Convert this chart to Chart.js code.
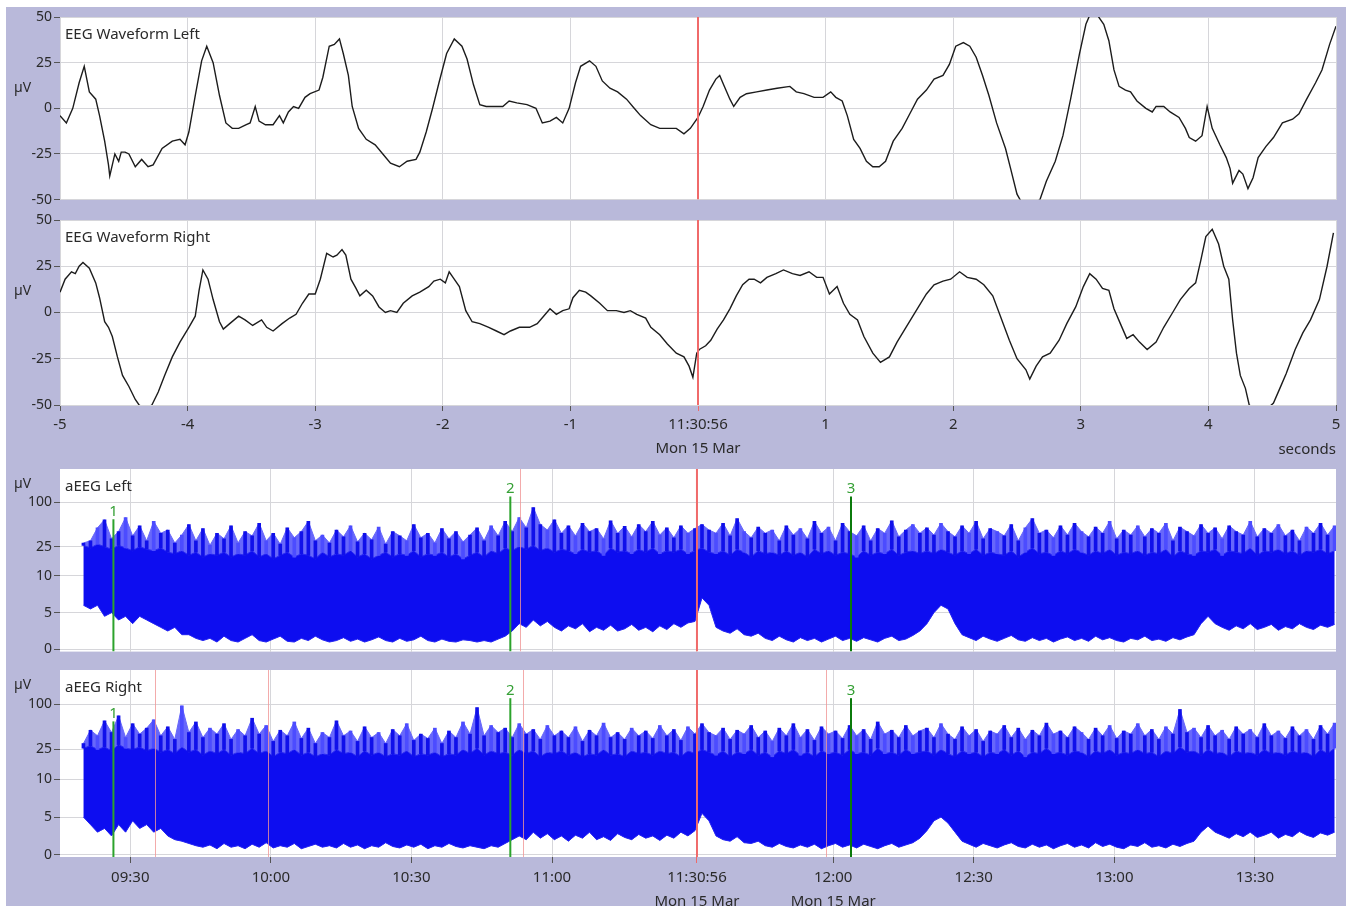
<!DOCTYPE html>
<html>
<head>
<meta charset="utf-8">
<title>EEG / aEEG</title>
<script src="https://cdn.jsdelivr.net/npm/chart.js@4/dist/chart.umd.min.js"></script>
<style>
  html, body { margin: 0; padding: 0; background: #fff; }
  body { width: 1352px; height: 906px; position: relative; overflow: hidden; }
  #frame { position: absolute; left: 6px; top: 7px; width: 1340px; height: 899px; background: #b9b9da; }
  canvas { position: absolute; left: 0; }
</style>
</head>
<body>
<div id="frame"></div>
<canvas id="eegLeft" width="1352" height="205" style="top:5px"></canvas>
<canvas id="eegRight" width="1352" height="262" style="top:208px"></canvas>
<canvas id="aeegLeft" width="1352" height="205" style="top:457px"></canvas>
<canvas id="aeegRight" width="1352" height="248" style="top:658px"></canvas>
<script>
// EEG waveforms: seconds relative to the cursor, µV
const eegLeftT = [
  -5.00,-4.95,-4.90,-4.85,-4.81,-4.77,-4.72,-4.69,-4.65,-4.62,
  -4.61,-4.57,-4.54,-4.52,-4.49,-4.46,-4.41,-4.36,-4.31,-4.27,
  -4.20,-4.12,-4.06,-4.02,-3.99,-3.94,-3.89,-3.85,-3.80,-3.75,
  -3.70,-3.65,-3.60,-3.54,-3.51,-3.47,-3.44,-3.39,-3.33,-3.28,
  -3.25,-3.21,-3.17,-3.13,-3.08,-3.04,-2.97,-2.94,-2.89,-2.85,
  -2.81,-2.78,-2.74,-2.71,-2.66,-2.60,-2.53,-2.47,-2.41,-2.34,
  -2.28,-2.21,-2.18,-2.13,-2.08,-2.03,-1.97,-1.91,-1.85,-1.81,
  -1.76,-1.71,-1.66,-1.60,-1.53,-1.48,-1.42,-1.34,-1.27,-1.22,
  -1.16,-1.11,-1.06,-1.01,-0.96,-0.92,-0.85,-0.80,-0.75,-0.69,
  -0.63,-0.56,-0.50,-0.45,-0.37,-0.30,-0.24,-0.17,-0.11,-0.06,
  0.00,
  0.04,0.09,0.14,0.17,0.20,0.25,0.28,0.33,0.38,0.46,
  0.54,0.62,0.72,0.77,0.83,0.91,0.98,1.04,1.08,1.13,
  1.17,1.22,1.27,1.32,1.37,1.42,1.47,1.53,1.60,1.66,
  1.72,1.79,1.85,1.92,1.97,2.02,2.08,2.13,2.18,2.23,
  2.28,2.34,2.41,2.45,2.50,2.54,2.60,2.68,2.73,2.80,
  2.86,2.92,2.99,3.04,3.07,3.13,3.18,3.22,3.26,3.30,
  3.35,3.39,3.44,3.51,3.56,3.59,3.65,3.70,3.77,3.82,
  3.85,3.90,3.95,3.99,4.03,4.09,4.14,4.17,4.19,4.24,
  4.27,4.31,4.35,4.39,4.45,4.51,4.58,4.66,4.71,4.77,
  4.84,4.89,4.95,5.00
];
const eegLeftV = [
  -4,-8,0,14,23,9,5,-4,-18,-31,
  -37,-25,-29,-24,-24,-25,-32,-28,-32,-31,
  -22,-18,-17,-20,-13,7,26,34,25,7,
  -8,-11,-11,-9,-8,1,-7,-9,-9,-4,
  -8,-2,1,0,6,8,10,17,34,35,
  38,30,18,1,-11,-17,-20,-25,-30,-32,
  -29,-28,-24,-13,0,14,30,38,34,27,
  13,2,1,1,1,4,3,2,0,-8,
  -7,-5,-8,0,14,23,26,23,15,11,
  9,5,0,-4,-9,-11,-11,-11,-14,-11,
  -5,
  1,10,16,18,13,5,1,6,8,9,
  10,11,12,9,8,6,6,9,6,4,
  -4,-17,-22,-29,-32,-32,-29,-18,-11,-3,
  5,10,16,18,24,34,36,34,28,18,
  7,-8,-22,-33,-47,-52,-54,-50,-40,-29,
  -15,5,30,46,51,51,46,37,21,12,
  10,9,4,0,-2,1,1,-2,-5,-11,
  -16,-18,-15,1,-11,-20,-27,-33,-41,-34,
  -36,-44,-38,-27,-21,-16,-8,-6,-3,5,
  14,21,35,45
];
const eegRightT = [
  -5.00,-4.96,-4.91,-4.88,-4.85,-4.82,-4.77,-4.72,-4.69,-4.65,
  -4.62,-4.59,-4.55,-4.51,-4.46,-4.41,-4.38,-4.33,-4.28,-4.23,
  -4.18,-4.12,-4.06,-3.99,-3.94,-3.91,-3.88,-3.84,-3.80,-3.75,
  -3.72,-3.67,-3.60,-3.55,-3.49,-3.42,-3.38,-3.33,-3.26,-3.20,
  -3.15,-3.10,-3.05,-3.00,-2.96,-2.91,-2.86,-2.83,-2.79,-2.76,
  -2.72,-2.68,-2.65,-2.60,-2.55,-2.50,-2.45,-2.41,-2.36,-2.31,
  -2.24,-2.18,-2.11,-2.07,-2.02,-1.98,-1.95,-1.92,-1.87,-1.82,
  -1.77,-1.71,-1.64,-1.58,-1.52,-1.47,-1.40,-1.32,-1.26,-1.21,
  -1.16,-1.11,-1.06,-1.01,-0.98,-0.93,-0.88,-0.84,-0.77,-0.71,
  -0.64,-0.58,-0.53,-0.48,-0.41,-0.37,-0.30,-0.24,-0.17,-0.11,
  -0.07,-0.04,-0.01,
  0.01,0.06,0.10,0.15,0.20,0.25,0.30,0.35,0.40,0.44,
  0.49,0.54,0.61,0.67,0.74,0.80,0.87,0.93,0.98,1.03,
  1.09,1.14,1.19,1.25,1.30,1.37,1.43,1.50,1.56,1.63,
  1.71,1.79,1.85,1.92,1.98,2.05,2.11,2.18,2.24,2.31,
  2.37,2.44,2.50,2.57,2.60,2.65,2.70,2.76,2.83,2.89,
  2.96,3.02,3.07,3.12,3.17,3.22,3.26,3.31,3.36,3.41,
  3.46,3.52,3.59,3.65,3.72,3.78,3.85,3.90,3.94,3.98,
  4.03,4.08,4.12,4.16,4.19,4.22,4.25,4.29,4.32,4.37,
  4.46,4.51,4.56,4.61,4.68,4.74,4.80,4.87,4.93,4.98
];
const eegRightV = [
  11,18,22,21,25,27,24,16,8,-5,
  -8,-13,-24,-34,-40,-47,-50,-52,-50,-43,
  -34,-24,-16,-8,-2,12,23,18,7,-5,
  -9,-6,-2,-4,-7,-4,-8,-10,-6,-3,
  -1,5,10,10,18,32,30,31,34,31,
  18,13,9,12,9,3,0,1,0,5,
  9,11,14,17,18,16,22,19,14,1,
  -5,-6,-8,-10,-12,-10,-8,-8,-6,-2,
  2,-1,1,2,8,12,11,9,5,1,
  1,0,1,-1,-3,-8,-12,-17,-22,-24,
  -29,-35,-22,
  -20,-18,-15,-9,-4,2,9,15,18,18,
  16,19,21,23,21,20,22,19,19,10,
  14,5,-1,-4,-13,-22,-27,-24,-16,-8,
  1,10,15,17,18,22,19,18,15,9,
  -2,-15,-25,-31,-36,-29,-24,-22,-15,-6,
  3,14,21,18,13,12,2,-6,-14,-12,
  -16,-20,-16,-8,0,7,13,16,28,41,
  45,37,25,18,-4,-22,-34,-41,-50,-52,
  -52,-49,-41,-33,-20,-11,-4,7,25,43
];
const eegTicks = [-5, -4, -3, -2, -1, 0, 1, 2, 3, 4, 5];
const eegTickLabels = ['-5', '-4', '-3', '-2', '-1', ['11:30:56', 'Mon 15 Mar'], '1', '2', '3', '4', '5'];
const eegYTicks = [-50, -25, 0, 25, 50];

// aEEG: lower margin, top of the dense band and spike maximum every 1.5 minutes
// (time in minutes since midnight)
const AEEG_START = 560, AEEG_STEP = 1.5;
const aeegLeftLo = [
  6,5.5,6,4.5,5,4,4.5,3.5,4.5,4,
  3.5,3,2.5,3,2,2,1.5,1.2,1.5,1,
  1.8,1.2,1,1.5,2,1.2,1,1.4,1.8,1.1,
  1,1.5,1.2,1.8,1.3,1,1.2,1.6,1.1,1.4,
  1,1.3,1.7,1.2,1,1.5,1.1,1.3,1.8,1.2,
  1,1.4,1.1,1,1.3,1.2,1,1.2,1,1.4,
  1.8,2.5,3.5,3,4,3.2,3.8,3,2.5,3.2,
  2.8,3.5,2.4,3,2.6,3.3,2.5,2.8,3.4,2.6,
  3,2.4,3.2,2.7,3.5,3,3.6,3.8,7,6,
  3,2.5,2.2,2.8,2,1.8,2.2,1.5,1.2,1.8,
  1.3,1,1.6,1.2,1.5,1,1.4,1.8,1.2,1.5,
  1.1,1.6,1.3,1,1.5,1.8,1.2,1.4,1.9,2.5,
  3.5,5,6,5.5,3.5,2,1.6,1.2,1.8,1.4,
  1.1,1.5,1.9,1.3,1.1,1.6,1.2,1.5,1,1.4,
  1.7,1.2,1.5,1.1,1.8,1.3,1.6,1.2,1,1.5,
  1.3,1.8,1.2,1.4,1.1,1.6,1.3,1.7,2,3.5,
  4.5,3.5,3,2.6,3.2,2.8,3.5,2.7,3,3.4,
  2.6,3.1,2.8,3.5,3,2.7,3.3,3,3.4
];
const aeegLeftCore = [
  26,24,27,25,23,26,24,22,25,23,
  22,24,21,20,22,19,21,18,20,19,
  21,18,20,19,22,18,20,17,19,21,
  18,20,19,17,21,18,20,19,22,18,
  20,17,19,21,18,20,19,22,18,20,
  19,21,18,20,17,19,21,18,22,20,
  24,22,25,23,26,22,24,21,23,22,
  20,23,21,22,19,24,21,22,20,23,
  21,24,20,22,21,23,20,22,24,21,
  20,22,19,23,21,18,22,20,21,19,
  22,19,21,18,23,20,22,19,21,20,
  18,22,19,21,20,23,19,21,22,20,
  22,20,23,21,19,22,20,23,19,21,
  20,19,22,18,21,24,20,21,19,22,
  20,23,21,19,22,20,23,19,21,20,
  22,19,21,20,23,18,22,20,19,22,
  21,23,19,22,21,20,24,19,22,21,
  23,20,22,19,22,21,23,20,22
];
const aeegLeftHi = [
  28,30,45,58,32,40,62,35,48,30,
  55,38,42,28,36,50,30,44,26,38,
  32,48,28,40,35,52,30,38,27,45,
  33,40,55,30,36,28,42,34,48,29,
  38,31,46,27,40,35,30,50,33,38,
  28,44,32,40,29,36,45,30,48,35,
  55,40,62,45,85,50,42,58,38,48,
  35,52,40,44,32,56,38,47,34,50,
  40,55,36,45,33,48,38,44,50,42,
  38,52,35,60,40,33,46,38,42,30,
  48,36,44,32,55,38,46,30,52,40,
  35,48,30,44,38,56,34,42,50,38,
  45,36,52,40,34,48,38,55,32,44,
  40,35,50,30,45,60,38,42,33,48,
  36,52,40,34,46,38,55,32,42,36,
  48,34,44,38,52,30,46,40,35,50,
  38,45,32,48,40,36,55,34,44,38,
  50,35,42,30,46,38,52,36,48
];
const aeegRightLo = [
  5,4,3,3.5,2.5,4,3,4.5,3.5,4,
  3,3.5,2.5,2,1.8,1.5,1.2,1,1.3,0.8,
  1.5,1,1.2,0.8,1.4,1,1.6,0.9,1.2,1,
  1.5,0.8,1.1,1.4,1,1.2,0.9,1.5,1,1.3,
  0.8,1.2,1,1.6,1.1,0.9,1.3,1,1.4,0.8,
  1.2,1,1.5,1.1,0.9,1.2,1,0.8,1.2,1,
  1.5,2,2.5,2,3,2.2,2.8,2,2.5,1.8,
  2.6,2.2,3,2,2.4,1.9,2.8,2.3,2,2.7,
  2.2,2.5,1.9,2.6,2.2,3,2.5,3.2,5.5,4.5,
  2.5,2,1.8,2.4,1.6,1.5,1.8,1.2,1,1.5,
  1.1,0.9,1.3,1,1.4,0.8,1.2,1.5,1,1.3,
  0.9,1.4,1.1,0.8,1.2,1.5,1,1.3,1.6,2.2,
  3.2,4.5,5,4.2,3,1.8,1.4,1,1.5,1.2,
  0.9,1.3,1.6,1.1,0.9,1.4,1,1.3,0.8,1.2,
  1.5,1,1.3,0.9,1.6,1.1,1.4,1,0.8,1.3,
  1.1,1.6,1,1.2,0.9,1.4,1.1,1.5,1.8,3,
  3.8,3,2.6,2.2,2.8,2.4,3,2.3,2.6,3,
  2.2,2.7,2.4,3.1,2.6,2.3,2.9,2.6,3
];
const aeegRightCore = [
  26,28,25,27,24,29,26,25,27,24,
  26,23,25,22,27,23,25,21,24,22,
  25,21,23,22,26,22,24,20,23,22,
  25,21,23,20,22,21,25,22,23,20,
  24,21,23,20,22,21,24,20,22,21,
  23,20,22,21,25,22,26,21,24,22,
  23,21,25,22,24,20,23,22,24,21,
  23,20,22,21,25,21,22,20,24,22,
  23,21,24,22,23,20,24,22,25,23,
  21,24,20,23,22,25,21,23,20,24,
  22,25,21,23,20,24,22,23,21,25,
  22,23,21,26,22,23,21,25,22,23,
  24,21,25,22,20,24,22,23,20,23,
  22,25,21,24,20,23,22,26,22,23,
  21,24,23,20,24,22,25,21,23,22,
  25,22,23,20,24,22,27,23,24,21,
  25,22,23,20,24,22,23,21,25,22,
  23,21,24,22,23,20,25,22,26
];
const aeegRightHi = [
  30,45,38,60,42,70,36,55,40,48,
  62,38,50,34,95,42,58,36,48,40,
  55,34,46,38,65,40,52,32,45,38,
  58,35,48,30,42,36,60,38,44,32,
  50,36,42,30,46,38,55,33,40,35,
  48,30,44,36,58,40,90,38,52,42,
  48,36,55,40,46,34,52,38,44,36,
  50,32,45,38,56,36,42,34,48,38,
  44,35,52,38,46,33,50,40,55,42,
  38,48,34,45,40,52,36,44,32,48,
  38,55,36,46,33,50,40,44,35,52,
  38,46,34,58,40,45,36,52,38,44,
  48,36,55,40,34,50,38,46,32,44,
  40,52,36,48,34,45,38,56,40,44,
  36,50,42,34,48,38,52,35,44,40,
  55,38,46,34,50,40,85,42,48,36,
  52,38,45,34,50,40,46,36,55,38,
  44,35,50,38,46,34,52,40,56
];
const aeegYTicks = [0, 5, 10, 25, 100];
const aeegTicks = [570, 600, 630, 660, 690.93, 720, 750, 780, 810];
const aeegTickLabels = ['09:30', '10:00', '10:30', '11:00', ['11:30:56', 'Mon 15 Mar'], ['12:00', 'Mon 15 Mar'], '12:30', '13:00', '13:30'];

const cursorEeg = 0, cursorAeeg = 690.93;
const markerTimes = [566.4, 651.1, 723.8];
const markerNames = ['1', '2', '3'];
const markerTops = [59, 120, 120];
const eventsLeft = [653.2];
const eventsRight = [575.3, 599.4, 653.8, 718.5];

const aeegTime = aeegLeftHi.map((_, i) => AEEG_START + i * AEEG_STEP);

const FONT = '"Noto Sans", "DejaVu Sans", sans-serif';
const GRID = '#d6d6da';
const TICK = '#555';
const CURSOR = '#f06a6a';
const BLUE = '#0d0df0';
const BLUE_LIGHT = '#6767fb';
Chart.defaults.font.family = FONT;
Chart.defaults.font.size = 14;
Chart.defaults.color = '#2a2a2a';

// aEEG amplitude axis: linear 0-10 µV, logarithmic above 10 µV
function semiLog(v) { return v <= 10 ? v / 10 : 1 + Math.log10(v / 10); }
function semiLogInv(f) { return f <= 1 ? f * 10 : 10 * Math.pow(10, f - 1); }
class AeegScale extends Chart.LinearScale {
  getPixelForValue(value) {
    if (value === null || isNaN(value)) return NaN;
    const a = semiLog(this.min), b = semiLog(this.max);
    return this.getPixelForDecimal((semiLog(value) - a) / (b - a));
  }
  getValueForPixel(pixel) {
    const a = semiLog(this.min), b = semiLog(this.max);
    return semiLogInv(a + this.getDecimalForPixel(pixel) * (b - a));
  }
}
AeegScale.id = 'aeeg';
AeegScale.defaults = Chart.LinearScale.defaults;
Chart.register(AeegScale);

function vline(ctx, x, y0, y1) {
  ctx.beginPath();
  ctx.moveTo(x, y0);
  ctx.lineTo(x, y1);
  ctx.stroke();
}

const panelDecor = {
  id: 'panelDecor',
  beforeDraw(chart) {
    const {ctx, chartArea: a} = chart;
    ctx.save();
    ctx.fillStyle = '#fff';
    ctx.fillRect(a.left, a.top, a.right - a.left, a.bottom - a.top);
    ctx.restore();
  },
  afterDatasetsDraw(chart, args, o) {
    const {ctx, chartArea: a, scales} = chart;
    const x = scales.x, y = scales.y;
    ctx.save();
    ctx.beginPath();
    ctx.rect(a.left, a.top, a.right - a.left, a.bottom - a.top);
    ctx.clip();
    ctx.lineWidth = 1;
    ctx.strokeStyle = 'rgba(240,150,150,0.8)';
    (o.events || []).forEach(t => vline(ctx, Math.round(x.getPixelForValue(t)) + 0.5, a.top, a.bottom));
    if (o.markers) {
      ctx.font = '15px ' + FONT;
      ctx.textAlign = 'center';
      ctx.textBaseline = 'bottom';
      markerTimes.forEach((t, i) => {
        const px = x.getPixelForValue(t), top = y.getPixelForValue(markerTops[i]);
        ctx.strokeStyle = i === 2 ? '#0b7a0b' : '#2ca32c';
        ctx.lineWidth = 2;
        vline(ctx, px, top, a.bottom);
        ctx.fillStyle = '#35a035';
        ctx.fillText(markerNames[i], px, top);
      });
    }
    ctx.strokeStyle = CURSOR;
    ctx.lineWidth = 2;
    vline(ctx, x.getPixelForValue(o.cursor), a.top, a.bottom);
    ctx.restore();

    ctx.save();
    ctx.fillStyle = '#2a2a2a';
    ctx.font = '15px ' + FONT;
    ctx.textBaseline = 'middle';
    ctx.textAlign = 'left';
    ctx.fillText(o.title, a.left + 5, a.top + 18);
    ctx.font = '14px ' + FONT;
    ctx.fillText('µV', 14, a.top + o.unitDy);
    if (o.note) {
      ctx.font = '15px ' + FONT;
      ctx.textAlign = 'right';
      ctx.fillText(o.note, a.right, o.noteY);
    }
    ctx.restore();
  }
};

function yAxis(type, min, max, ticks) {
  return {
    type: type, min: min, max: max,
    afterBuildTicks: s => { s.ticks = ticks.map(value => ({value})); },
    afterFit: s => { s.width = 60; },
    border: { display: false },
    grid: { color: GRID, tickColor: TICK, tickLength: 6 },
    ticks: { padding: 2, font: { size: 14 }, callback: v => String(v) }
  };
}

function xAxis(min, max, ticks, labels, cursor, height, pad) {
  const show = height > 0;
  return {
    type: 'linear', min: min, max: max, offset: false,
    afterBuildTicks: s => { s.ticks = ticks.map(value => ({value})); },
    afterFit: s => { s.height = height; },
    border: { display: false },
    grid: { color: GRID, offset: false, drawTicks: show, tickLength: 6,
            tickColor: c => (c.tick && c.tick.value === cursor) ? CURSOR : TICK },
    ticks: { display: show, autoSkip: false, maxRotation: 0, padding: pad,
             font: { size: 15, lineHeight: 1.6 }, callback: (v, i) => labels[i] }
  };
}

function baseOptions(padBottom, decor, scales) {
  return {
    responsive: false, animation: false, events: [],
    layout: { padding: { left: 0, right: 16, top: 12, bottom: padBottom } },
    plugins: { legend: { display: false }, tooltip: { enabled: false }, panelDecor: decor },
    scales: scales
  };
}

function eegChart(id, title, t, v, xHeight, padBottom, note) {
  return new Chart(document.getElementById(id), {
    type: 'line',
    data: { datasets: [{
      data: t.map((x, i) => ({x: x, y: v[i]})),
      borderColor: '#1c1c1c', borderWidth: 1.4, pointRadius: 0, tension: 0
    }] },
    options: baseOptions(padBottom,
      { title: title, unitDy: 71, cursor: cursorEeg, note: note, noteY: 242 },
      { x: xAxis(-5, 5, eegTicks, eegTickLabels, cursorEeg, xHeight, 2),
        y: yAxis('linear', -50, 50, eegYTicks) }),
    plugins: [panelDecor]
  });
}

// layers (bottom to top): light spike envelope, dense band, dark spike lines
function aeegChart(id, title, lo, core, hi, events, xHeight, padBottom) {
  const pts = arr => arr.map((v, i) => ({x: aeegTime[i], y: v}));
  return new Chart(document.getElementById(id), {
    type: 'line',
    data: { datasets: [
      { data: pts(lo), order: 0,
        borderColor: '#2626f2', borderWidth: 1, pointRadius: 0, fill: false, tension: 0 },
      { data: pts(hi), order: 4,
        borderColor: BLUE_LIGHT, borderWidth: 1, backgroundColor: BLUE_LIGHT,
        pointRadius: 0, fill: { target: 0 }, tension: 0 },
      { data: pts(core), order: 3,
        borderColor: '#2a2af4', borderWidth: 1, backgroundColor: BLUE,
        pointRadius: 0, fill: { target: 0 }, tension: 0 },
      { type: 'bar', order: 2,
        data: hi.map((v, i) => ({x: aeegTime[i], y: [core[i], v]})),
        backgroundColor: c => (c.dataIndex % 4 === 2 ? '#4c4cff' : '#1010ea'),
        borderWidth: 0, barThickness: 3 }
    ] },
    options: baseOptions(padBottom,
      { title: title, unitDy: 15, cursor: cursorAeeg, events: events, markers: true },
      { x: xAxis(555, 827.3, aeegTicks, aeegTickLabels, cursorAeeg, xHeight, 3),
        y: yAxis('aeeg', -0.3, 284, aeegYTicks) }),
    plugins: [panelDecor]
  });
}

eegChart('eegLeft', 'EEG Waveform Left', eegLeftT, eegLeftV, 0, 8, null);
eegChart('eegRight', 'EEG Waveform Right', eegRightT, eegRightV, 57, 8, 'seconds');
aeegChart('aeegLeft', 'aEEG Left', aeegLeftLo, aeegLeftCore, aeegLeftHi, eventsLeft, 0, 7);
aeegChart('aeegRight', 'aEEG Right', aeegRightLo, aeegRightCore, aeegRightHi, eventsRight, 49, 0);
</script>
</body>
</html>
